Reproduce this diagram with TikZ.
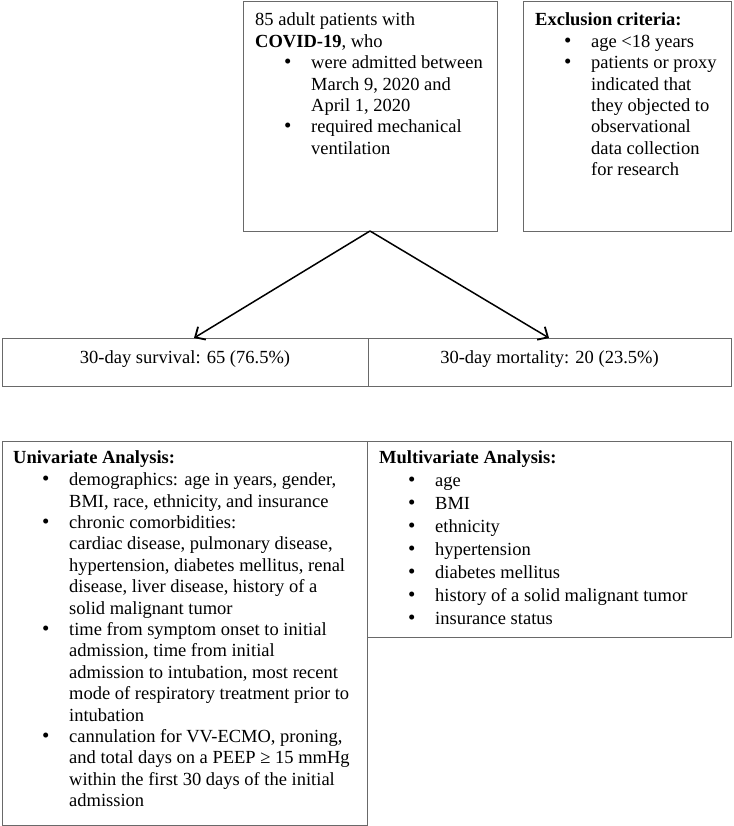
\documentclass[tikz,border=0pt]{standalone}
\usepackage{fontspec}
\setmainfont{Liberation Serif}
\usetikzlibrary{arrows.meta}
\definecolor{boxgray}{RGB}{105,105,105}
\newcommand\bi[1]{\hspace*{29pt}\makebox[27pt][l]{\fontsize{21}{21}\selectfont\textbullet}#1}
\newcommand\ci[1]{\hspace*{56pt}#1}
\begin{document}
\begin{tikzpicture}[x=1pt,y=-1pt,
  box/.style={draw=boxgray, line width=1pt, inner sep=0pt, outer sep=0pt, anchor=north west},
  rowbox/.style={box, minimum height=48pt, text height=13pt, text depth=11pt, font=\fontsize{18.5}{21.4}\selectfont},
  txt/.style={inner sep=0pt, anchor=base west, font=\fontsize{18.5}{21.4}\selectfont},
  arr/.style={line width=1.5pt, -{Straight Barb[length=8pt,width=15pt,line width=1.8pt]}}]
\useasboundingbox (0,0) rectangle (733,826);
\node[box, minimum width=254pt, minimum height=229pt] (top) at (243,2) {};
\node[box, minimum width=208pt, minimum height=229pt] (excl) at (523,2) {};
\node[rowbox, minimum width=366pt] (surv) at (2,338) {30-day survival: 65 (76.5\%)};
\node[rowbox, minimum width=363pt] (mort) at (368,338) {30-day mortality: 20 (23.5\%)};
\node[box, minimum width=365pt, minimum height=384pt] (univ) at (2,441) {};
\node[box, minimum width=364pt, minimum height=196pt] (multi) at (367,441) {};
\node[txt] (toptxt) at (255,26) {\begin{tabular}[t]{@{}l@{}}
85 adult patients with\\
\textbf{COVID-19}, who\\
\bi{were admitted between}\\
\ci{March 9, 2020 and}\\
\ci{April 1, 2020}\\
\bi{required mechanical}\\
\ci{ventilation}
\end{tabular}};
\node[txt] (excltxt) at (535,26) {\begin{tabular}[t]{@{}l@{}}
\textbf{Exclusion criteria:}\\
\bi{age <18 years}\\
\bi{patients or proxy}\\
\ci{indicated that}\\
\ci{they objected to}\\
\ci{observational}\\
\ci{data collection}\\
\ci{for research}
\end{tabular}};
\node[txt] (univtxt) at (13,463) {\begin{tabular}[t]{@{}l@{}}
\textbf{Univariate Analysis:}\\[1.2pt]
\bi{demographics: age in years, gender,}\\
\ci{BMI, race, ethnicity, and insurance}\\
\bi{chronic comorbidities:}\\
\ci{cardiac disease, pulmonary disease,}\\
\ci{hypertension, diabetes mellitus, renal}\\
\ci{disease, liver disease, history of a}\\
\ci{solid malignant tumor}\\
\bi{time from symptom onset to initial}\\
\ci{admission, time from initial}\\
\ci{admission to intubation, most recent}\\
\ci{mode of respiratory treatment prior to}\\
\ci{intubation}\\
\bi{cannulation for VV-ECMO, proning,}\\
\ci{and total days on a PEEP ≥ 15 mmHg}\\
\ci{within the first 30 days of the initial}\\
\ci{admission}
\end{tabular}};
\node[txt, font=\fontsize{18.5}{23}\selectfont] (multitxt) at (379,463) {\begin{tabular}[t]{@{}l@{}}
\textbf{Multivariate Analysis:}\\
\bi{age}\\
\bi{BMI}\\
\bi{ethnicity}\\
\bi{hypertension}\\
\bi{diabetes mellitus}\\
\bi{history of a solid malignant tumor}\\
\bi{insurance status}
\end{tabular}};
\coordinate (survin) at (194,338);
\coordinate (mortin) at (549,338);
\draw[arr] (top.south) -- (survin);
\draw[arr] (top.south) -- (mortin);
\end{tikzpicture}
\end{document}
